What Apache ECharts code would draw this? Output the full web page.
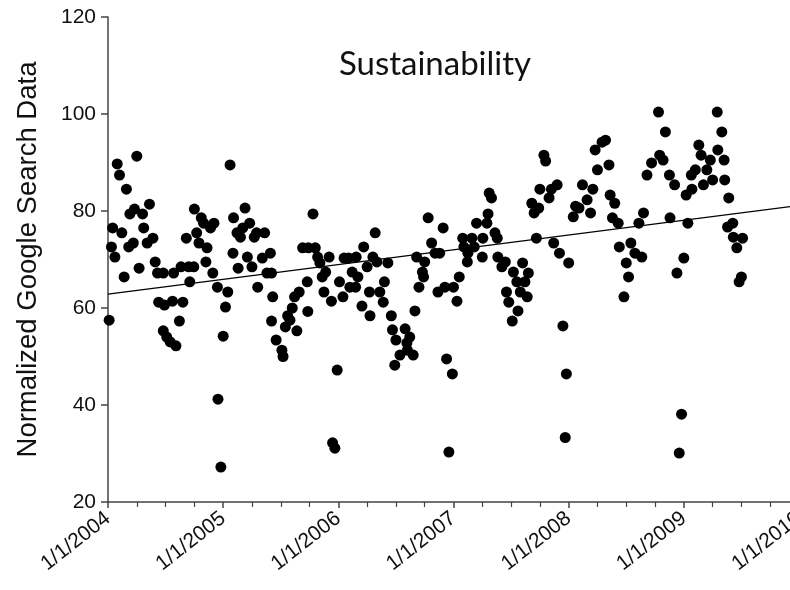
<!DOCTYPE html>
<html>
<head>
<meta charset="utf-8">
<script src="https://cdn.jsdelivr.net/npm/echarts@6/dist/echarts.min.js"></script>
<style>
html,body{margin:0;padding:0;background:#fff;}
#chart{width:790px;height:590px;}
</style>
</head>
<body>
<div id="chart"></div>
<script>
// Week positions in decimal years and normalized search values
const dates = [
2004.01,2004.03,2004.04,2004.06,2004.08,2004.10,2004.12,2004.14,2004.16,2004.18,
2004.19,2004.22,2004.23,2004.25,2004.27,2004.30,2004.31,2004.34,2004.36,2004.39,
2004.41,2004.43,2004.44,2004.48,2004.48,2004.49,2004.51,2004.54,2004.56,2004.57,
2004.59,2004.62,2004.634,2004.65,2004.68,2004.70,2004.71,2004.745,2004.75,2004.77,
2004.79,2004.81,2004.83,2004.85,2004.86,2004.89,2004.91,2004.92,2004.95,2004.955,
2004.98,2005.00,2005.02,2005.04,2005.06,2005.085,2005.09,2005.12,2005.13,2005.15,
2005.17,2005.19,2005.21,2005.23,2005.25,2005.27,2005.29,2005.30,2005.34,2005.36,
2005.38,2005.41,2005.42,2005.43,
2005.42,2005.46,2005.51,2005.52,2005.54,2005.56,2005.58,2005.60,2005.62,2005.64,
2005.66,2005.69,2005.73,2005.74,2005.735,2005.78,2005.80,2005.82,2005.84,2005.86,
2005.875,2005.89,2005.92,2005.94,2005.95,2005.97,2005.99,2006.01,2006.04,2006.05,
2006.09,2006.10,2006.12,2006.15,2006.155,2006.17,2006.205,2006.22,2006.25,2006.27,
2006.275,2006.30,2006.32,2006.335,2006.36,2006.39,2006.40,2006.43,2006.46,2006.47,
2006.49,2006.50,2006.535,2006.58,2006.595,2006.60,2006.62,2006.65,2006.665,2006.68,
2006.70,2006.73,2006.74,2006.75,2006.78,2006.81,2006.84,2006.865,2006.88,2006.91,
2006.925,2006.94,2006.96,2006.99,2007.00,2007.03,2007.05,2007.08,2007.09,2007.12,
2007.125,2007.16,2007.18,2007.20,2007.25,2007.255,2007.29,2007.30,2007.31,2007.33,
2007.36,2007.38,2007.385,2007.42,2007.45,2007.46,2007.48,2007.51,2007.52,2007.55,
2007.56,2007.58,2007.60,2007.62,2007.64,2007.65,2007.68,2007.70,2007.72,2007.74,
2007.75,2007.785,2007.80,2007.83,2007.85,2007.87,2007.90,2007.92,2007.95,2007.97,
2007.98,2008.00,2008.04,2008.06,2008.09,2008.12,2008.16,2008.19,2008.21,2008.23,
2008.25,2008.29,2008.32,2008.35,2008.36,2008.38,2008.40,2008.43,2008.44,2008.48,
2008.50,2008.52,2008.54,2008.575,2008.61,2008.635,2008.65,2008.68,2008.72,2008.78,
2008.79,2008.82,2008.84,2008.875,2008.88,2008.92,2008.94,2008.96,2008.98,2009.00,
2009.02,2009.035,2009.07,2009.065,2009.10,2009.13,2009.15,2009.17,2009.20,2009.23,
2009.25,2009.29,2009.295,2009.33,2009.35,2009.355,2009.38,2009.39,2009.425,2009.43,
2009.46,2009.48,2009.50,2009.51
];
const values = [
57.5,72.6,76.5,70.5,89.7,87.4,75.5,66.4,84.5,72.6,
79.4,73.4,80.4,91.3,68.2,79.4,76.5,73.4,81.4,74.4,
69.5,67.2,61.2,67.2,55.3,60.6,54.0,53.0,61.4,67.2,
52.2,57.3,68.5,61.2,74.4,68.5,65.4,68.5,80.4,75.5,
73.4,78.6,77.5,69.5,72.4,76.5,67.2,77.5,64.3,41.2,
27.2,54.2,60.2,63.3,89.5,71.3,78.6,75.5,68.2,74.6,
76.5,80.6,70.5,77.5,68.5,74.6,75.5,64.3,70.3,75.5,
67.2,71.3,67.2,62.3,
57.3,53.4,51.3,50.0,56.1,58.4,57.5,60.0,62.3,55.3,
63.3,72.4,65.4,72.4,59.3,79.4,72.4,70.5,69.3,66.4,
63.3,67.4,70.5,61.4,32.2,31.1,47.2,65.4,62.3,70.3,
70.3,64.3,67.4,64.3,70.5,66.4,60.4,72.6,68.5,63.3,
58.4,70.5,75.5,69.5,63.3,61.2,65.4,69.3,58.4,55.5,
48.2,53.4,50.3,55.7,52.8,51.3,54.0,50.3,59.4,70.5,
64.3,67.4,66.4,69.5,78.6,73.4,71.3,63.3,71.3,76.5,
64.3,49.5,30.3,46.4,64.3,61.4,66.4,74.4,72.6,69.5,
71.3,74.4,72.6,77.5,70.5,74.4,77.5,79.4,83.7,82.7,
75.5,74.4,70.5,68.5,69.5,63.3,61.2,57.3,67.4,65.4,
59.4,63.3,69.3,65.4,62.3,67.2,81.6,79.6,74.4,80.6,
84.5,91.5,90.3,82.7,84.5,73.4,85.4,71.3,56.3,33.3,
46.4,69.3,78.8,81.0,80.6,85.4,82.3,79.6,84.5,92.6,
88.5,94.2,94.6,89.5,83.3,78.6,81.6,77.5,72.6,62.3,
69.3,66.4,73.4,71.3,77.5,70.5,79.6,87.4,89.9,100.4,
91.5,90.5,96.3,87.4,78.6,85.4,67.2,30.1,38.1,70.3,
83.3,77.5,84.5,87.4,88.5,93.6,91.5,85.4,88.5,90.5,
86.4,100.4,92.6,96.3,90.5,86.4,76.7,82.7,77.5,74.6,
72.4,65.4,66.4,74.4
];
// Linear trend line end points
const trendX = [2004, 2010];
const trendY = [62.85, 81.15];
const yTicks = [20, 40, 60, 80, 100, 120];
const xTickYears = [2004, 2005, 2006, 2007, 2008, 2009, 2010];

const pts = dates.map((d, i) => [d, values[i]]);
const trend = trendX.map((d, i) => [d, trendY[i]]);

const chart = echarts.init(document.getElementById('chart'), null, {renderer: 'canvas'});
chart.setOption({
  animation: false,
  backgroundColor: '#ffffff',
  title: {
    text: 'Sustainability',
    left: 430, top: 43, textAlign: 'center',
    textStyle: {fontFamily: 'Lato', fontSize: 33, fontWeight: 'normal', color: '#111'}
  },
  grid: {left: 108, top: 17, width: 691, height: 485, containLabel: false, outerBoundsMode: 'none'},
  xAxis: {
    type: 'value',
    min: xTickYears[0], max: xTickYears[xTickYears.length - 1], interval: 1,
    axisLine: {lineStyle: {color: '#444', width: 1.5}},
    axisTick: {show: true, length: 6, lineStyle: {color: '#444', width: 1.5}},
    minorTick: {show: true, splitNumber: 4, length: 5, lineStyle: {color: '#444', width: 1.2}},
    splitLine: {show: false},
    axisLabel: {
      rotate: 38, margin: 14, color: '#111',
      fontFamily: 'Arial', fontSize: 21,
      formatter: v => '1/1/' + v
    }
  },
  yAxis: {
    type: 'value', min: yTicks[0], max: yTicks[yTicks.length - 1], interval: 20,
    name: 'Normalized Google Search Data', nameLocation: 'middle', nameGap: 66,
    nameTextStyle: {fontFamily: 'Arial', fontSize: 27.5, color: '#111'},
    axisLine: {show: true, lineStyle: {color: '#444', width: 1.5}},
    axisTick: {show: true, length: 7, lineStyle: {color: '#444', width: 1.5}},
    splitLine: {show: false},
    axisLabel: {margin: 12, color: '#111', fontFamily: 'Arial', fontSize: 21}
  },
  series: [
    {
      type: 'scatter', data: pts, symbol: 'circle', symbolSize: 11,
      itemStyle: {color: '#000', opacity: 1}, z: 3
    },
    {
      type: 'line', data: trend, symbol: 'none', silent: true,
      lineStyle: {color: '#000', width: 1.3}, z: 2
    }
  ]
});
</script>
</body>
</html>
